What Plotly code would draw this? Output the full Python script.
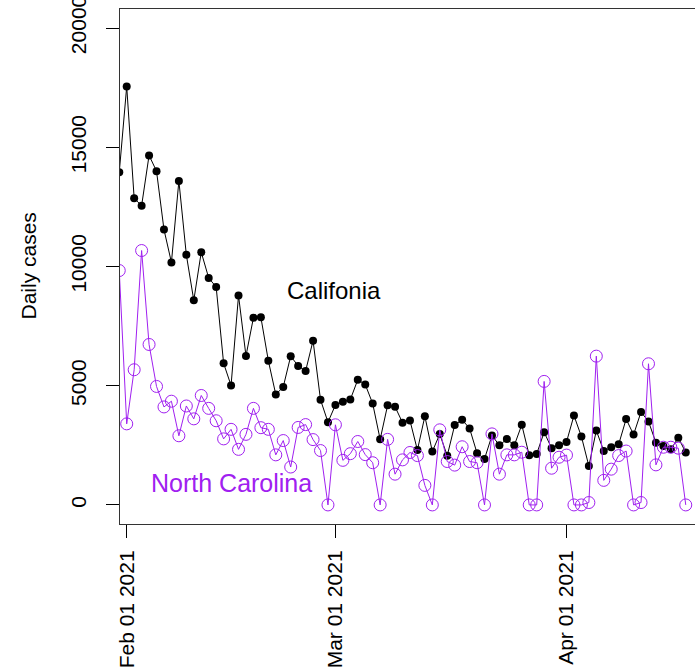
import pandas as pd
import plotly.graph_objects as go

dates = pd.date_range("2021-01-31", "2021-04-17", freq="D")

california = [
    13950,
    17550, 12860, 12550, 14660, 14000, 11550, 10170, 13590, 10490, 8580,
    10600, 9520, 9140, 5940, 5010, 8780, 6250, 7850, 7870, 6050,
    4630, 4950, 6240, 5830, 5620, 6890, 4410, 3470,
    4190, 4330, 4420, 5250, 5050, 4250, 2750, 4180, 4120, 3450,
    3540, 2300, 3720, 2240, 2970, 2060, 3350, 3570, 3210, 2170,
    1930, 2910, 2500, 2760, 2500, 3360, 2080, 2140, 3050, 2380, 2500,
    2640, 3750, 2870, 1630, 3120, 2260, 2420, 2540, 3600, 2950,
    3900, 3500, 2610, 2470, 2340, 2820, 2200,
]

north_carolina = [
    9830,
    3400, 5670, 10670, 6730, 4970, 4110, 4350, 2900, 4150, 3610,
    4590, 4050, 3530, 2770, 3170, 2330, 2960, 4050, 3240, 3170,
    2100, 2700, 1590, 3250, 3370, 2740, 2280, 0,
    3360, 1870, 2150, 2660, 2110, 1770, 0, 2750, 1290, 1890,
    2200, 2070, 820, 0, 3150, 1820, 1670, 2440, 1820, 1770,
    0, 2980, 1290, 2100, 2100, 2210, 0, 0, 5180, 1540, 2000,
    2090, 0, 0, 100, 6240, 1030, 1500, 2070, 2260, 0,
    100, 5920, 1680, 2420, 2420, 2380, 0,
]

y_ticks = [0, 5000, 10000, 15000, 20000]
x_ticks = ["2021-02-01", "2021-03-01", "2021-04-01"]
x_tick_labels = ["Feb 01 2021", "Mar 01 2021", "Apr 01 2021"]

PURPLE = "#A020F0"
FONT = "Arial, Liberation Sans, sans-serif"

fig = go.Figure()
fig.add_trace(go.Scatter(
    x=dates, y=california, mode="lines+markers",
    line=dict(color="black", width=1),
    marker=dict(color="black", size=8, symbol="circle"),
    showlegend=False,
))
fig.add_trace(go.Scatter(
    x=dates, y=north_carolina, mode="lines+markers",
    line=dict(color=PURPLE, width=1),
    marker=dict(color=PURPLE, size=12, symbol="circle-open", line=dict(width=1, color=PURPLE)),
    showlegend=False,
))

fig.update_layout(
    width=695, height=672,
    margin=dict(l=120, r=0, t=9, b=148, autoexpand=False),
    paper_bgcolor="white", plot_bgcolor="white",
    font=dict(family=FONT, size=20, color="black"),
    xaxis=dict(
        range=["2021-01-31 02:24", "2021-04-18 05:45"],
        tickvals=x_ticks, ticktext=x_tick_labels,
        tickangle=-90, ticks="outside", ticklen=13, tickcolor="black",
        showline=True, linecolor="#333", linewidth=1, mirror=True,
        showgrid=False, zeroline=False, automargin=False,
        ticklabeloverflow="allow", ticklabelstandoff=4,
        tickfont=dict(family=FONT, size=21, color="black"),
    ),
    yaxis=dict(
        range=[-800, 20800],
        tickvals=y_ticks, ticktext=[str(v) for v in y_ticks],
        tickangle=-90, ticks="outside", ticklen=13, tickcolor="black",
        showline=True, linecolor="#333", linewidth=1, mirror=False,
        showgrid=False, zeroline=False, automargin=False,
        ticklabeloverflow="allow", ticklabelstandoff=12,
        tickfont=dict(family=FONT, size=21, color="black"),
    ),
    annotations=[
        dict(text="Califonia", x="2021-02-28 19:00", y=9000, xref="x", yref="y",
             showarrow=False, font=dict(family=FONT, size=24, color="black"),
             xanchor="center", yanchor="middle"),
        dict(text="North Carolina", x="2021-02-15 00:00", y=900, xref="x", yref="y",
             showarrow=False, font=dict(family=FONT, size=25, color=PURPLE),
             xanchor="center", yanchor="middle"),
        dict(text="Daily cases", x=(28 - 120) / 575, y=0.5, xref="paper", yref="paper",
             showarrow=False, textangle=-90, font=dict(family=FONT, size=21, color="black"),
             xanchor="center", yanchor="middle"),
    ],
)

fig.write_html("out.html")
